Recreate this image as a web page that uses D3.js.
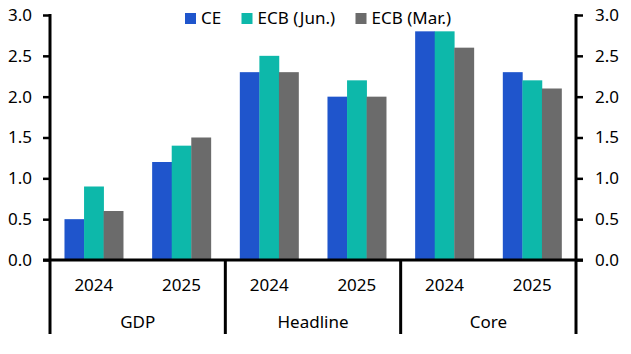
<!DOCTYPE html>
<html>
<head>
<meta charset="utf-8">
<script src="https://cdn.jsdelivr.net/npm/d3@7"></script>
<style>
  body { margin: 0; background: #fff; }
  svg text { font-family: "Noto Sans", "DejaVu Sans", sans-serif; fill: #000; }
</style>
</head>
<body>
<svg id="drawing_region"></svg>
<script>
// data
const groups = ['GDP', 'Headline', 'Core'];
const years = ['2024', '2025'];
const series = ['CE', 'ECB (Jun.)', 'ECB (Mar.)'];
const colors = ['#1f55cc', '#0db8aa', '#6b6b6b'];
const ceValues = [0.5, 1.2, 2.3, 2.0, 2.8, 2.3];
const junValues = [0.9, 1.4, 2.5, 2.2, 2.8, 2.2];
const marValues = [0.6, 1.5, 2.3, 2.0, 2.6, 2.1];
const yTicks = [0, 0.5, 1, 1.5, 2, 2.5, 3];

const width = 631, height = 354;
const margin = {top: 15, left: 50, right: 55, bottom: 94};

const svg = d3.select('#drawing_region')
    .attr('width', width)
    .attr('height', height);

// one row per group/year
const rows = [];
groups.forEach((g, gi) => {
    years.forEach((yr, yi) => {
        const i = gi * years.length + yi;
        rows.push({ key: g + '-' + yr, group: g, year: yr,
            values: [ceValues[i], junValues[i], marValues[i]] });
    });
});

const x0 = d3.scaleBand()
    .domain(rows.map(d => d.key))
    .range([margin.left, width - margin.right]);

const x1 = d3.scaleBand()
    .domain(series)
    .range([0, x0.bandwidth()])
    .paddingInner(0)
    .paddingOuter(0.74);

const y = d3.scaleLinear()
    .domain([0, 3])
    .range([height - margin.bottom, margin.top]);

const fmt = d3.format('.1f');

// bars
const rowG = svg.append('g').selectAll('g')
    .data(rows)
    .join('g')
    .attr('transform', d => `translate(${x0(d.key)},0)`);

rowG.selectAll('rect')
    .data(d => d.values.map((v, i) => ({ s: series[i], v: v, c: colors[i] })))
    .join('rect')
    .attr('x', d => x1(d.s))
    .attr('width', x1.bandwidth() + 0.3)
    .attr('y', d => y(d.v))
    .attr('height', d => y(0) - y(d.v))
    .attr('fill', d => d.c);

// left axis
const leftAxis = svg.append('g')
    .attr('transform', `translate(${margin.left},0)`)
    .call(d3.axisLeft(y).tickValues(yTicks).tickFormat(fmt).tickSize(7).tickPadding(11));

// right axis
const rightAxis = svg.append('g')
    .attr('transform', `translate(${width - margin.right},0)`)
    .call(d3.axisRight(y).tickValues(yTicks).tickFormat(fmt).tickSize(7).tickPadding(12));

[leftAxis, rightAxis].forEach(ax => {
    ax.select('.domain').remove();
    ax.selectAll('.tick line').attr('stroke', '#000').attr('stroke-width', 2.5);
    ax.selectAll('.tick text').style('font-size', '17px').attr('fill', '#000');
});

const axisColor = '#000';
const plotRight = width - margin.right;

// vertical axis lines
[margin.left, plotRight].forEach(xp => {
    svg.append('line')
        .attr('x1', xp).attr('x2', xp)
        .attr('y1', y(3) - 1).attr('y2', y(0))
        .attr('stroke', axisColor).attr('stroke-width', 3);
});

// zero line
svg.append('line')
    .attr('x1', margin.left - 7).attr('x2', plotRight + 7)
    .attr('y1', y(0)).attr('y2', y(0))
    .attr('stroke', axisColor).attr('stroke-width', 3);

// category separators below axis
const sepX = [margin.left].concat(groups.map((g, gi) => x0(g + '-' + years[years.length - 1]) + x0.bandwidth()));
sepX.forEach(xp => {
    svg.append('line')
        .attr('x1', xp).attr('x2', xp)
        .attr('y1', y(0)).attr('y2', 334)
        .attr('stroke', axisColor).attr('stroke-width', 3);
});

// year labels
svg.append('g').selectAll('text')
    .data(rows)
    .join('text')
    .attr('x', d => x0(d.key) + x0.bandwidth() / 2)
    .attr('y', 291)
    .attr('text-anchor', 'middle')
    .style('font-size', '17px')
    .text(d => d.year);

// group labels
svg.append('g').selectAll('text')
    .data(groups)
    .join('text')
    .attr('x', g => (x0(g + '-' + years[0]) + x0(g + '-' + years[1]) + x0.bandwidth()) / 2)
    .attr('y', 328)
    .attr('text-anchor', 'middle')
    .style('font-size', '17px')
    .text(g => g);

// legend
const legendX = [185, 241.5, 355.5];
const legend = svg.append('g').selectAll('g')
    .data(series)
    .join('g')
    .attr('transform', (d, i) => `translate(${legendX[i]},13)`);
legend.append('rect')
    .attr('width', 11).attr('height', 11)
    .attr('fill', (d, i) => colors[i]);
legend.append('text')
    .attr('x', 16).attr('y', 11)
    .style('font-size', '17px')
    .text(d => d);
</script>
</body>
</html>
